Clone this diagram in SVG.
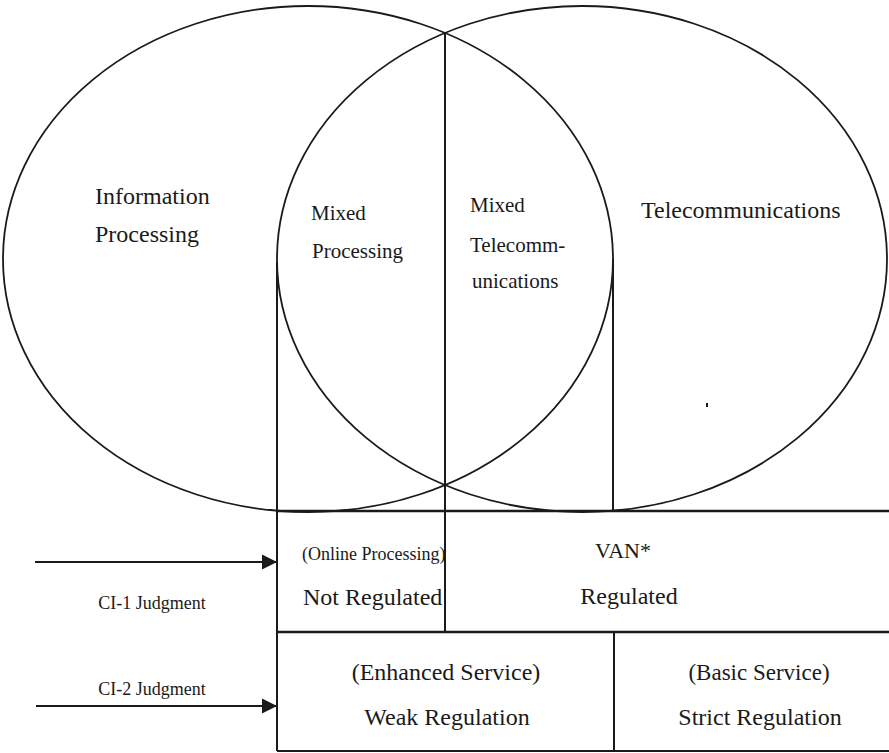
<svg xmlns="http://www.w3.org/2000/svg" width="889" height="753" viewBox="0 0 889 753">
  <style>
    .bg { fill: #ffffff; }
    .shape { fill: none; stroke: #1a1a1a; stroke-width: 1.8; }
    .line { fill: none; stroke: #1a1a1a; stroke-width: 2; }
    .hline { fill: none; stroke: #1a1a1a; stroke-width: 2.6; }
    .t { font-family: "Liberation Serif", "Times New Roman", serif; fill: #1a1a1a; }
    .big { font-size: 24px; }
    .mid { font-size: 21px; }
    .small { font-size: 18px; }
    .c { text-anchor: middle; }
  </style>
  <defs>
    <marker id="arrow" markerUnits="userSpaceOnUse" markerWidth="16" markerHeight="16" refX="15" refY="8" orient="auto">
      <path d="M0,0.5 L15,8 L0,15.5 z" fill="#1a1a1a"/>
    </marker>
  </defs>
  <rect class="bg" x="0" y="0" width="889" height="753"/>

  <g id="information-processing">
    <ellipse class="shape" cx="308" cy="259" rx="305" ry="253"/>
    <text class="t big" x="95" y="204">Information</text>
    <text class="t big" x="95" y="242">Processing</text>
  </g>

  <g id="telecommunications">
    <ellipse class="shape" cx="582" cy="259" rx="305" ry="253"/>
    <text class="t big" x="641" y="218">Telecommunications</text>
    <rect x="706" y="403" width="2" height="4" fill="#1a1a1a"/>
  </g>

  <g id="mixed-processing">
    <text class="t mid" x="311" y="220">Mixed</text>
    <text class="t mid" x="312" y="258">Processing</text>
  </g>

  <g id="mixed-telecommunications">
    <text class="t mid" x="470" y="212">Mixed</text>
    <text class="t mid" x="470" y="252">Telecomm-</text>
    <text class="t mid" x="472" y="288">unications</text>
  </g>

  <g id="dividers">
    <line class="line" x1="445" y1="33" x2="445" y2="632"/>
    <line class="line" x1="277" y1="262" x2="277" y2="751"/>
    <line class="line" x1="613" y1="259" x2="613" y2="511"/>
  </g>

  <g id="table-frame">
    <line class="hline" x1="277" y1="511" x2="889" y2="511"/>
    <line class="hline" x1="277" y1="632" x2="889" y2="632"/>
    <line class="line" x1="277" y1="751" x2="889" y2="751"/>
    <line class="line" x1="614" y1="632" x2="614" y2="751"/>
  </g>

  <g id="not-regulated">
    <text class="t small" x="302" y="560">(Online Processing)</text>
    <text class="t big" x="303" y="605">Not Regulated</text>
  </g>

  <g id="van-regulated">
    <text class="t c" style="font-size:22px" x="623" y="558">VAN*</text>
    <text class="t big c" x="629" y="604">Regulated</text>
  </g>

  <g id="weak-regulation">
    <text class="t big c" x="446" y="680">(Enhanced Service)</text>
    <text class="t big c" x="447" y="725">Weak Regulation</text>
  </g>

  <g id="strict-regulation">
    <text class="t c" style="font-size:23px" x="759" y="680">(Basic Service)</text>
    <text class="t big c" x="760" y="725">Strict Regulation</text>
  </g>

  <g id="ci1-judgment">
    <text class="t small c" x="152" y="609">CI-1 Judgment</text>
  </g>

  <g id="ci2-judgment">
    <text class="t small c" x="152" y="695">CI-2 Judgment</text>
  </g>

  <g id="connectors">
    <line class="line" x1="35" y1="562" x2="277" y2="562" marker-end="url(#arrow)"/>
    <line class="line" x1="36" y1="706" x2="277" y2="706" marker-end="url(#arrow)"/>
  </g>
</svg>
